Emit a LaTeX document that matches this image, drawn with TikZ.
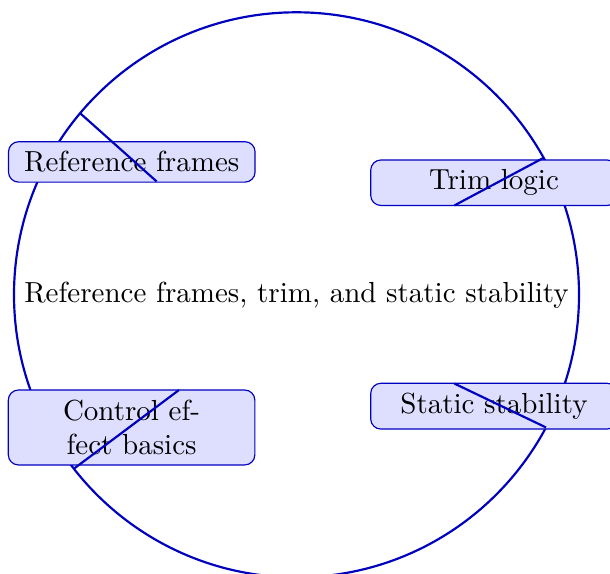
\documentclass[tikz,border=0pt]{standalone}
\begin{document}
\begin{tikzpicture}[x=0.3446pt,y=-0.3446pt,
  hubline/.style={draw=blue!75!black,line width=0.75pt},
  topic/.style={draw=blue!75!black,line width=0.4pt,fill=blue!13,rounded corners=3.5pt,
    text width=78.3pt,align=center,inner sep=3.333pt,outer sep=0pt},
  spoke/.style={draw=blue!75!black,line width=0.75pt}]
\useasboundingbox (0,0) rectangle (610,573);
\node[hubline,circle,minimum size=194.7pt,inner sep=0pt,outer sep=0pt] (hub) at (296.5,294.8)
  {Reference frames, trim, and static stability};
\node[topic,anchor=north west] (rf) at (8.5,141.7) {Reference frames};
\node[topic,anchor=north west] (tl) at (370.7,160) {Trim logic};
\node[topic,anchor=north west] (ss) at (370.7,383.3) {Static stability};
\node[topic,anchor=north west] (ce) at (8.3,390) {Control effect basics};
\coordinate (rfin) at (156.7,181.5);
\coordinate (tlin) at (454.3,205.5);
\coordinate (ssin) at (454.3,383.5);
\coordinate (cein) at (179,390);
\draw[spoke] (hub.140.95) -- (rfin);
\draw[spoke] (hub.29.6) -- (tlin);
\draw[spoke] (hub.-28.9) -- (ssin);
\draw[spoke] (hub.218.7) -- (cein);
\end{tikzpicture}
\end{document}
